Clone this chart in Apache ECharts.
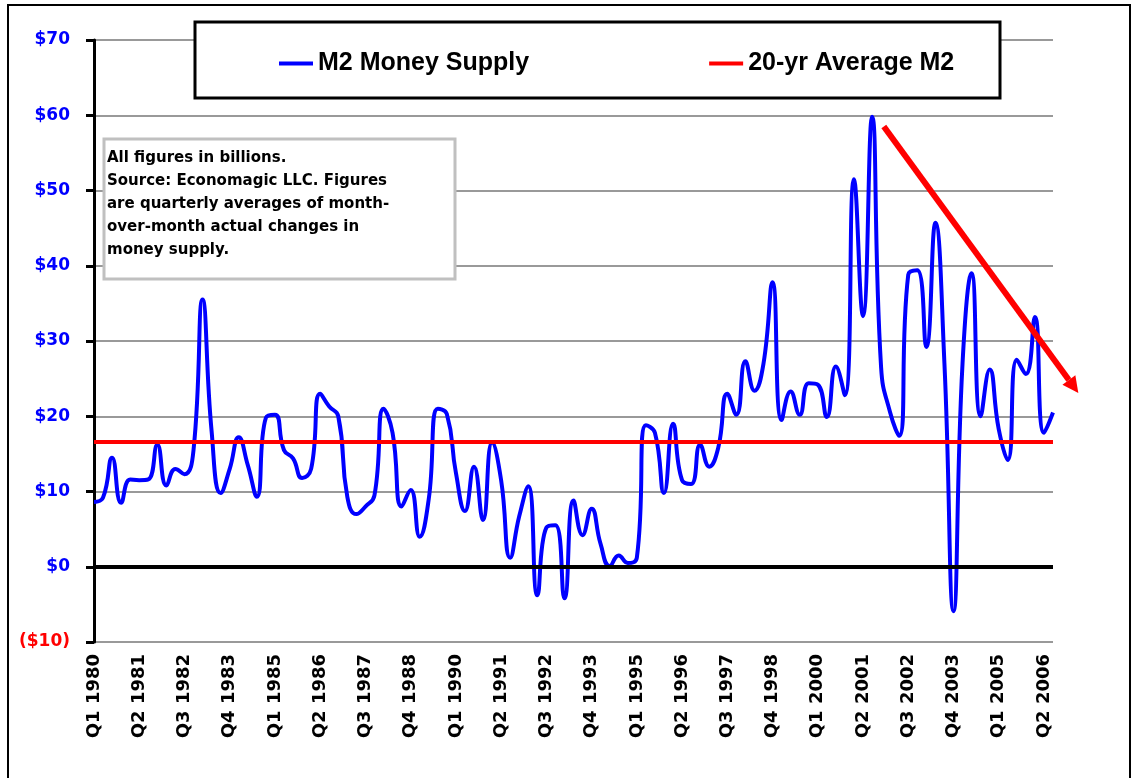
<!DOCTYPE html>
<html>
<head>
<meta charset="utf-8">
<title>M2 Money Supply</title>
<script src="https://cdn.jsdelivr.net/npm/echarts@6/dist/echarts.min.js"></script>
<style>
  html, body { margin: 0; padding: 0; background: #fff; }
  #main { width: 1139px; height: 778px; }
</style>
</head>
<body>
<div id="main"></div>
<script>
// quarter labels, Q1 1980 .. Q3 2006
const firstYear = 1980;
const quarterCount = 107;
const quarters = [];
for (let i = 0; i < quarterCount; i++) {
  quarters.push("Q" + (i % 4 + 1) + " " + (firstYear + Math.floor(i / 4)));
}

// M2 quarterly change, $ billions
const m2Values1980s = [
  8.6, 9.2, 14.5, 8.5, 11.6, 11.5, 11.6, 16.2, 10.8, 13.0,
  12.3, 15.5, 35.5, 18.0, 9.8, 13.0, 17.2, 13.5, 9.3, 19.8,
  20.2, 15.5, 14.4, 11.8, 13.0, 23.0, 21.3, 20.0, 9.3, 7.0,
  8.0, 9.5, 21.0, 17.8, 8.0, 10.2, 4.0, 9.0, 21.0, 20.3
];
const m2Values1990s = [
  12.5, 7.4, 13.3, 6.2, 16.5, 11.5, 1.2, 6.7, 10.7, -3.8,
  5.2, 5.5, -4.2, 8.8, 4.2, 7.7, 3.0, 0.1, 1.5, 0.5,
  1.2, 18.8, 17.8, 9.8, 19.0, 11.5, 11.0, 16.2, 13.3, 15.8,
  23.0, 20.2, 27.3, 23.4, 27.0, 37.8, 19.5, 23.3, 20.2, 24.4
];
const m2Values2000s = [
  24.2, 19.9, 26.6, 22.8, 51.5, 33.3, 59.8, 26.5, 20.5, 17.4,
  38.8, 39.4, 29.2, 45.7, 27.0, -5.9, 27.0, 39.0, 20.0, 26.2,
  18.3, 14.2, 27.5, 25.6, 33.2, 17.8, 20.5
];
const m2Values = m2Values1980s.concat(m2Values1990s, m2Values2000s);

// 20-yr average
const avgM2 = 16.6;

// hand-drawn trend arrow: [quarter index, value]
const trendStart = [87.3, 58.5];
const trendEnd = [108.8, 23.1];

const noteLines = [
  "All figures in billions.",
  "Source: Economagic LLC. Figures",
  "are quarterly averages of month-",
  "over-month actual changes in",
  "money supply."
];

const chart = echarts.init(document.getElementById("main"));

const option = {
  backgroundColor: "#fff",
  animation: false,
  grid: { left: 94, right: 86, top: 40, bottom: 136 },
  legend: {
    left: 274,
    top: 46,
    itemWidth: 34,
    itemHeight: 4,
    itemGap: 180,
    icon: "rect",
    z: 5,
    textStyle: {
      fontFamily: "Liberation Sans",
      fontWeight: "bold",
      fontSize: 25,
      color: "#000"
    },
    data: ["M2 Money Supply", "20-yr Average M2"]
  },
  xAxis: {
    type: "category",
    data: quarters,
    boundaryGap: false,
    axisLine: { show: false, onZero: false },
    axisTick: { show: false },
    splitLine: { show: false },
    axisLabel: {
      interval: 4,
      rotate: 90,
      margin: 12,
      fontFamily: "DejaVu Sans",
      fontWeight: "bold",
      fontSize: 18,
      color: "#000"
    }
  },
  yAxis: {
    type: "value",
    min: -10,
    max: 70,
    interval: 10,
    axisLine: { show: true, lineStyle: { color: "#000", width: 3 } },
    axisTick: { show: true, length: 8, lineStyle: { color: "#000", width: 3 } },
    splitLine: { lineStyle: { color: "#999", width: 2 } },
    axisLabel: {
      margin: 24,
      formatter: function (v) {
        return v < 0 ? "{neg|($" + (-v) + ")}" : "{pos|$" + v + "}";
      },
      rich: {
        pos: { fontFamily: "DejaVu Sans", fontWeight: "bold", fontSize: 17, color: "#0000ff" },
        neg: { fontFamily: "DejaVu Sans", fontWeight: "bold", fontSize: 17, color: "#ff0000" }
      }
    }
  },
  series: [
    {
      name: "M2 Money Supply",
      type: "line",
      data: m2Values,
      smooth: true,
      symbol: "none",
      z: 3,
      lineStyle: { color: "#0000ff", width: 4 },
      itemStyle: { color: "#0000ff" },
      markLine: {
        silent: true,
        symbol: "none",
        label: { show: false },
        lineStyle: { color: "#000", width: 4, type: "solid" },
        data: [{ yAxis: 0 }]
      }
    },
    {
      name: "20-yr Average M2",
      type: "line",
      data: [],
      symbol: "none",
      lineStyle: { color: "#ff0000", width: 4 },
      itemStyle: { color: "#ff0000" },
      markLine: {
        silent: true,
        symbol: "none",
        label: { show: false },
        lineStyle: { color: "#ff0000", width: 4, type: "solid" },
        data: [{ yAxis: avgM2 }]
      }
    }
  ]
};
chart.setOption(option);

// pixel position of a (fractional) quarter index and value
function toPixel(idx, val) {
  const a = chart.convertToPixel({ gridIndex: 0 }, [0, val]);
  const b = chart.convertToPixel({ gridIndex: 0 }, [quarterCount - 1, val]);
  const step = (b[0] - a[0]) / (quarterCount - 1);
  return [a[0] + idx * step, a[1]];
}

const p0 = toPixel(trendStart[0], trendStart[1]);
const p1 = toPixel(trendEnd[0], trendEnd[1]);
const ang = Math.atan2(p1[1] - p0[1], p1[0] - p0[0]);
const headLen = 16, headW = 8;
const base = [p1[0] - headLen * Math.cos(ang), p1[1] - headLen * Math.sin(ang)];
const head = [
  p1,
  [base[0] + headW * Math.sin(ang), base[1] - headW * Math.cos(ang)],
  [base[0] - headW * Math.sin(ang), base[1] + headW * Math.cos(ang)]
];

const noteText = [];
noteLines.forEach((line, i) => {
  noteText.push({
    type: "text",
    left: 107,
    top: 151 + i * 23,
    z: 4,
    style: {
      text: line,
      fill: "#000",
      font: "bold 15px 'DejaVu Sans'"
    }
  });
});

chart.setOption({
  graphic: [
    // outer frame
    {
      type: "rect",
      z: 0,
      shape: { x: 8, y: 5, width: 1122, height: 800 },
      style: { fill: "none", stroke: "#000", lineWidth: 2 }
    },
    // legend box
    {
      type: "rect",
      z: 4,
      shape: { x: 195, y: 22, width: 805, height: 76 },
      style: { fill: "#fff", stroke: "#000", lineWidth: 3 }
    },
    // note box
    {
      type: "rect",
      z: 4,
      shape: { x: 104, y: 139, width: 351, height: 140 },
      style: { fill: "#fff", stroke: "#c0c0c0", lineWidth: 3 }
    },
    ...noteText,
    // trend arrow
    {
      type: "line",
      z: 6,
      shape: { x1: p0[0], y1: p0[1], x2: base[0], y2: base[1] },
      style: { stroke: "#ff0000", lineWidth: 6 }
    },
    {
      type: "polygon",
      z: 6,
      shape: { points: head },
      style: { fill: "#ff0000" }
    }
  ]
});
</script>
</body>
</html>
